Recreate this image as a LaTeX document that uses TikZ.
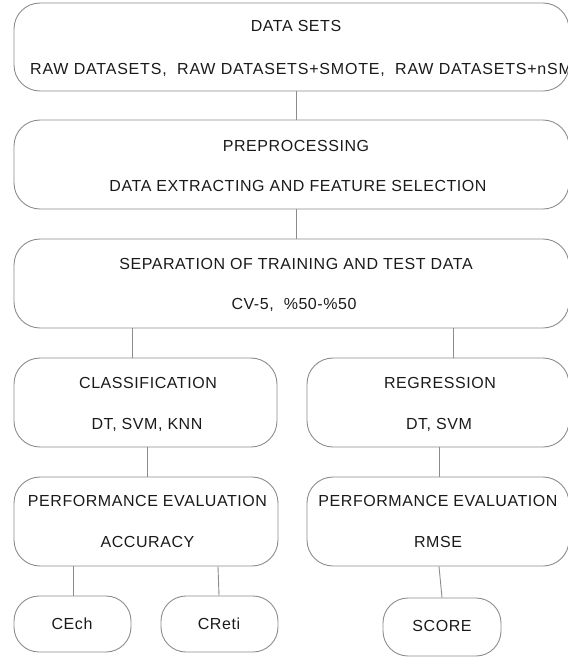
\documentclass[tikz,border=0pt]{standalone}
\usepackage{fontspec}
\setmainfont{Liberation Sans}[LetterSpace=3.5]
\usetikzlibrary{calc}
\definecolor{edge}{HTML}{8C8C8C}
\definecolor{ink}{HTML}{1A1A1A}
\tikzset{
  box/.style={draw=edge, line width=0.9pt, rounded corners=26pt, inner sep=0pt},
  pill/.style={box, rounded corners=25pt},
  txt/.style={anchor=base, inner sep=0pt, text=ink, font=\fontsize{16}{19}\selectfont},
  link/.style={draw=edge, line width=0.9pt},
}
\begin{document}
\begin{tikzpicture}[x=1pt, y=-1pt]
\useasboundingbox (0,0) rectangle (568,657);

% stage boxes
\node[box, minimum width=555, minimum height=88] (ds)  at (291.5,47)    {};
\node[box, minimum width=555, minimum height=89] (pre) at (291.5,164.5) {};
\node[box, minimum width=555, minimum height=89] (sep) at (291.5,283.5) {};
\node[box, minimum width=263, minimum height=89] (cls) at (145.5,402.5) {};
\node[box, minimum width=262, minimum height=89] (reg) at (438,402.5)   {};
\node[box, minimum width=264, minimum height=89] (pel) at (146,521.5)   {};
\node[box, minimum width=262, minimum height=89] (per) at (438,521.5)   {};
\node[pill, minimum width=117, minimum height=56] (cech)  at (72.5,624)  {};
\node[pill, minimum width=117, minimum height=56] (creti) at (219.5,624) {};
\node[pill, minimum width=118, minimum height=58] (score) at (442,627)   {};

% labels
\node[txt] (t1a) at (296,31) {DATA SETS};
\node[txt, anchor=base west] (t1b) at (30,74) {\addfontfeature{LetterSpace=5}RAW DATASETS,\ \ RAW DATASETS+SMOTE,\ \ RAW DATASETS+nSM};
\node[txt] (t2a) at (296,151) {PREPROCESSING};
\node[txt] (t2b) at (298,191) {DATA EXTRACTING AND FEATURE SELECTION};
\node[txt] (t3a) at (296,269) {SEPARATION OF TRAINING AND TEST DATA};
\node[txt] (t3b) at (294,309) {CV-5,\ \ \%50-\%50};
\node[txt] (t4a) at (148,388) {CLASSIFICATION};
\node[txt] (t4b) at (147,429) {DT, SVM, KNN};
\node[txt] (t5a) at (440,388) {REGRESSION};
\node[txt] (t5b) at (439,429) {DT, SVM};
\node[txt] (t6a) at (147.5,506) {PERFORMANCE EVALUATION};
\node[txt] (t6b) at (147.5,547) {ACCURACY};
\node[txt] (t7a) at (438,506) {PERFORMANCE EVALUATION};
\node[txt] (t7b) at (438,547) {RMSE};
\node[txt] (t8) at (72,629) {CEch};
\node[txt] (t9) at (219,629) {CReti};
\node[txt] (t10) at (442,631) {SCORE};

% connectors
\coordinate (xa) at (296,0);
\coordinate (xb) at (132,0);
\coordinate (xc) at (453,0);
\coordinate (xd) at (147,0);
\coordinate (xe) at (439,0);
\coordinate (xf) at (73,0);
\draw[link] (ds.south -| xa) -- (pre.north -| xa);
\draw[link] (pre.south -| xa) -- (sep.north -| xa);
\draw[link] (sep.south -| xb) -- (cls.north -| xb);
\draw[link] (sep.south -| xc) -- (reg.north -| xc);
\draw[link] (cls.south -| xd) -- (pel.north -| xd);
\draw[link] (reg.south -| xe) -- (per.north -| xe);
\draw[link] (pel.south -| xf) -- (cech.north -| xf);
\draw[link] ($(pel.south)+(72,0)$) -- ($(creti.north)+(-0.5,0)$);
\draw[link] ($(per.south)+(1,0)$) -- (score.north);
\end{tikzpicture}
\end{document}
